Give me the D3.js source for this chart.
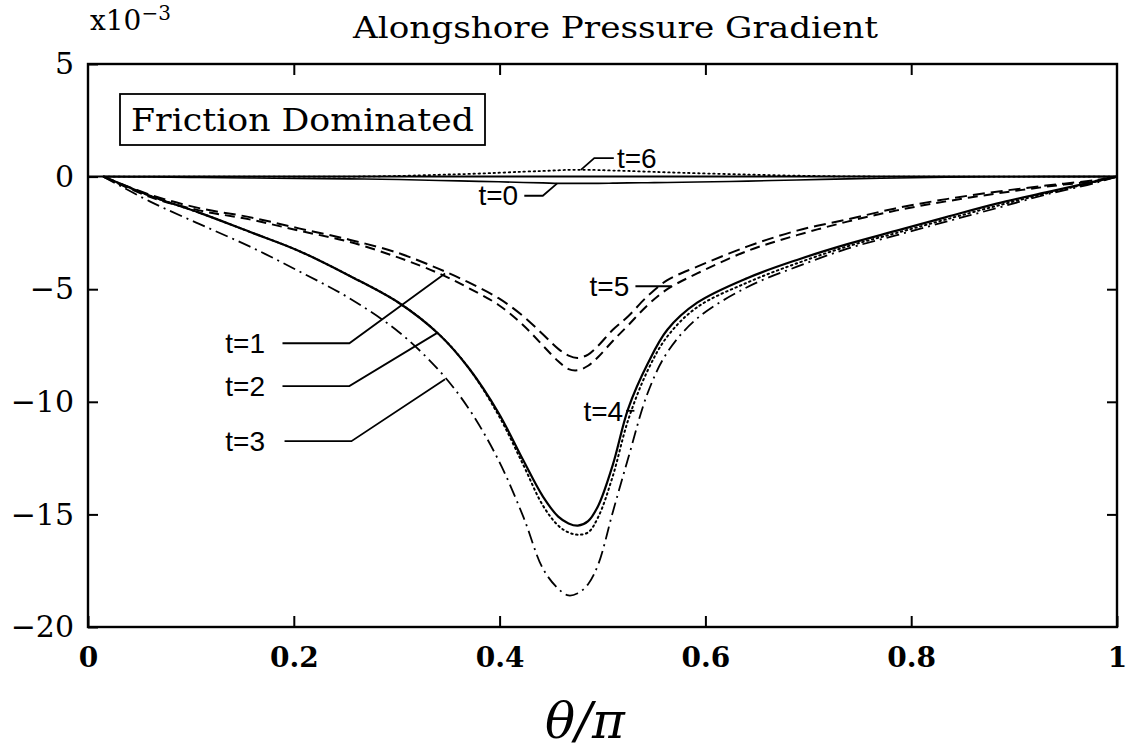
<!DOCTYPE html>
<html>
<head>
<meta charset="utf-8">
<script src="https://cdn.jsdelivr.net/npm/d3@7"></script>
<style>
  html, body { margin: 0; padding: 0; background: #fff; }
  svg { display: block; }
</style>
</head>
<body>
<svg id="chart" width="1128" height="750"></svg>
<script>
// ---------------- data (values in units of 1e-3) ----------------
const theta = [0.015, 0.06, 0.108, 0.157, 0.205, 0.254, 0.302, 0.341, 0.37, 0.399, 0.423, 0.442, 0.457, 0.467, 0.476, 0.486, 0.496, 0.51, 0.525, 0.544, 0.563, 0.592, 0.641, 0.689, 0.738, 0.786, 0.834, 0.883, 0.931, 0.98, 1.0];

const t0 = [0, -0.02, -0.04, -0.06, -0.08, -0.1, -0.13, -0.17, -0.2, -0.23, -0.26, -0.28, -0.3, -0.3, -0.3, -0.3, -0.3, -0.29, -0.28, -0.27, -0.26, -0.24, -0.2, -0.15, -0.1, -0.06, -0.03, -0.01, 0, 0, 0];
const t1 = [0, -0.9, -1.5, -1.9, -2.4, -2.9, -3.6, -4.3, -4.95, -5.7, -6.6, -7.5, -8.2, -8.55, -8.6, -8.4, -8.0, -7.3, -6.6, -5.7, -5.0, -4.3, -3.3, -2.6, -2.0, -1.5, -1.1, -0.75, -0.45, -0.18, 0];
const t2 = [0, -0.85, -1.6, -2.45, -3.3, -4.4, -5.6, -7.0, -8.5, -10.5, -12.6, -14.2, -15.1, -15.4, -15.5, -15.3, -14.6, -12.8, -10.3, -8.3, -6.8, -5.6, -4.5, -3.7, -3.0, -2.4, -1.8, -1.2, -0.7, -0.2, 0];
const t3 = [0, -1.1, -2.1, -3.1, -4.2, -5.4, -6.9, -8.6, -10.3, -12.6, -15.1, -17.4, -18.3, -18.6, -18.5, -18.1, -17.2, -14.9, -12.5, -9.6, -7.8, -6.3, -4.9, -4.0, -3.2, -2.6, -2.0, -1.4, -0.8, -0.27, 0];
const t4 = [0, -0.85, -1.6, -2.45, -3.3, -4.4, -5.6, -7.0, -8.5, -10.6, -12.8, -14.6, -15.5, -15.8, -15.9, -15.8, -15.1, -13.3, -10.8, -8.6, -7.1, -5.8, -4.7, -3.85, -3.1, -2.5, -1.9, -1.3, -0.75, -0.22, 0];
const t5 = [0, -0.8, -1.4, -1.8, -2.3, -2.8, -3.4, -4.1, -4.7, -5.4, -6.2, -7.0, -7.65, -7.95, -8.05, -7.9, -7.5, -6.8, -6.2, -5.3, -4.6, -4.0, -3.1, -2.4, -1.9, -1.4, -1.0, -0.67, -0.4, -0.15, 0];
const t6 = [0, 0, 0, 0, 0, 0, 0.03, 0.08, 0.12, 0.17, 0.22, 0.25, 0.28, 0.3, 0.3, 0.3, 0.29, 0.27, 0.25, 0.22, 0.19, 0.15, 0.09, 0.04, 0.01, 0, 0, 0, 0, 0, 0];

const seriesNames = ["t=0", "t=1", "t=2", "t=3", "t=4", "t=5", "t=6"];
const seriesValues = [t0, t1, t2, t3, t4, t5, t6];

const xTicks = [0, 0.2, 0.4, 0.6, 0.8, 1];
const yTicks = [5, 0, -5, -10, -15, -20];

// label anchors (data coords): text point and leader polyline
const labelNames = ["t=1", "t=2", "t=3", "t=0", "t=6", "t=5", "t=4"];
const labelText = [[0.172, -7.4], [0.172, -9.3], [0.172, -11.75], [0.418, -0.82], [0.514, 0.82], [0.526, -4.87], [0.52, -10.4]];
const labelAnchor = ["end", "end", "end", "end", "start", "end", "end"];
const labelLeaders = [
  [[0.189, -7.4], [0.254, -7.4], [0.347, -4.3]],
  [[0.189, -9.3], [0.254, -9.3], [0.339, -6.95]],
  [[0.191, -11.75], [0.256, -11.75], [0.347, -9.0]],
  [[0.424, -0.85], [0.442, -0.85], [0.456, -0.3]],
  [[0.479, 0.3], [0.492, 0.82], [0.511, 0.82]],
  [[0.532, -4.87], [0.567, -4.87]],
  [[0.523, -10.4], [0.531, -10.4]]
];

// ---------------- drawing ----------------
const svg = d3.select("#chart");
const mLeft = 88, mRight = 1117, mTop = 64, mBottom = 627;

const x = d3.scaleLinear().domain([0, 1]).range([mLeft, mRight]);
const y = d3.scaleLinear().domain([-20, 5]).range([mBottom, mTop]);

const serif = "'DejaVu Serif', 'Liberation Serif', serif";
const sans = "'Liberation Sans', Arial, sans-serif";

// title
svg.append("text")
  .attr("x", 353).attr("y", 38)
  .attr("font-family", serif).attr("font-size", 30)
  .attr("textLength", 525).attr("lengthAdjust", "spacingAndGlyphs")
  .text("Alongshore Pressure Gradient");

// exponent
const ex = svg.append("text").attr("x", 90).attr("y", 30)
  .attr("font-family", serif).attr("font-size", 28);
ex.append("tspan").text("x10");
ex.append("tspan").attr("dy", -10).attr("font-size", 20).text("\u22123");

// line styles
const styles = {
  "t=0": { dash: null, w: 1.6 },
  "t=1": { dash: "10,6", w: 2 },
  "t=2": { dash: null, w: 2.2 },
  "t=3": { dash: "13,5,2,5", w: 1.8 },
  "t=4": { dash: "1.5,3.5", w: 2 },
  "t=5": { dash: "12,6", w: 2 },
  "t=6": { dash: "1.5,3.5", w: 1.8 }
};

const line = d3.line().x(d => x(d[0])).y(d => y(d[1])).curve(d3.curveCatmullRom.alpha(0.5));

// zero reference line
svg.append("line")
  .attr("x1", x(0)).attr("x2", x(1)).attr("y1", y(0)).attr("y2", y(0))
  .attr("stroke", "#000").attr("stroke-width", 2);

seriesNames.forEach((name, i) => {
  const pts = theta.map((t, j) => [t, seriesValues[i][j]]);
  svg.append("path")
    .attr("d", line(pts))
    .attr("fill", "none")
    .attr("stroke", "#000")
    .attr("stroke-width", styles[name].w)
    .attr("stroke-dasharray", styles[name].dash)
    .attr("stroke-linecap", styles[name].dash && styles[name].dash.startsWith("1.5") ? "round" : "butt");
});

// axes
const fmtX = d => (d === 0 || d === 1) ? String(d) : d.toFixed(1);
const xAxis = svg.append("g").attr("transform", `translate(0,${mBottom})`)
  .call(d3.axisBottom(x).tickValues(xTicks).tickSize(-11).tickPadding(20).tickFormat(fmtX));
xAxis.selectAll("text").attr("font-family", serif).attr("font-size", 28).attr("font-weight", "bold").attr("fill", "#000");

svg.append("g").attr("transform", `translate(0,${mTop})`)
  .call(d3.axisTop(x).tickValues(xTicks.slice(1, -1)).tickSize(-11).tickFormat(""));

const yAxis = svg.append("g").attr("transform", `translate(${mLeft},0)`)
  .call(d3.axisLeft(y).tickValues(yTicks).tickSize(-10).tickPadding(14).tickFormat(d3.format("d")));
yAxis.selectAll("text").attr("font-family", serif).attr("font-size", 30).attr("fill", "#000");

svg.append("g").attr("transform", `translate(${mRight},0)`)
  .call(d3.axisRight(y).tickValues(yTicks.slice(1, -1)).tickSize(-10).tickFormat(""));

svg.selectAll(".domain").remove();
svg.selectAll(".tick line").attr("stroke", "#000").attr("stroke-width", 2);

// frame
svg.append("rect")
  .attr("x", mLeft).attr("y", mTop).attr("width", mRight - mLeft).attr("height", mBottom - mTop)
  .attr("fill", "none").attr("stroke", "#000").attr("stroke-width", 2.4);

// Friction Dominated box
svg.append("rect")
  .attr("x", 120).attr("y", 94).attr("width", 365).attr("height", 51)
  .attr("fill", "none").attr("stroke", "#000").attr("stroke-width", 1.8);
svg.append("text")
  .attr("x", 131).attr("y", 131)
  .attr("font-family", serif).attr("font-size", 31)
  .attr("textLength", 343).attr("lengthAdjust", "spacingAndGlyphs")
  .text("Friction Dominated");

// series labels with leaders
labelNames.forEach((name, i) => {
  svg.append("path")
    .attr("d", d3.line().x(d => x(d[0])).y(d => y(d[1]))(labelLeaders[i]))
    .attr("fill", "none").attr("stroke", "#000").attr("stroke-width", 1.8);
  svg.append("text")
    .attr("x", x(labelText[i][0])).attr("y", y(labelText[i][1]))
    .attr("dy", "0.36em")
    .attr("text-anchor", labelAnchor[i])
    .attr("font-family", sans).attr("font-size", 28)
    .text(name);
});

// x axis title
svg.append("text")
  .attr("x", 585).attr("y", 738).attr("text-anchor", "middle")
  .attr("font-family", serif).attr("font-size", 50).attr("font-style", "italic")
  .text("\u03b8/\u03c0");
</script>
</body>
</html>
